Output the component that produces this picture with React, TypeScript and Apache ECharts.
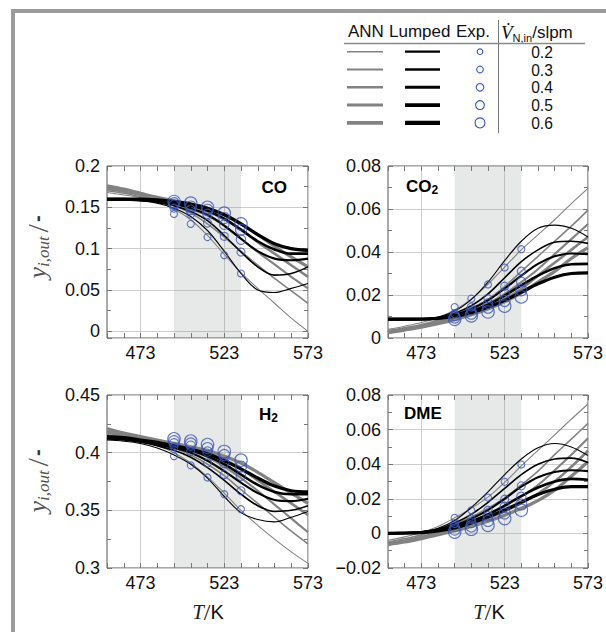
import React, { useEffect, useRef } from 'react';
import * as echarts from 'echarts';

// ---------- data ----------
const temps = [453, 463, 473, 483, 493, 503, 513, 523, 533, 543, 553, 563, 573];
const expTemps = [493, 503, 513, 523, 533];
const flows = ['0.2', '0.3', '0.4', '0.5', '0.6'];
const shadeRange = [493, 533];
const xTickLabels = [473, 523, 573];

const coAnn = [
  [0.168, 0.165, 0.162, 0.157, 0.148, 0.135, 0.116, 0.093, 0.071, 0.052, 0.034, 0.016, 0.0],
  [0.170, 0.167, 0.163, 0.159, 0.152, 0.143, 0.130, 0.114, 0.097, 0.080, 0.064, 0.049, 0.034],
  [0.172, 0.169, 0.165, 0.160, 0.155, 0.148, 0.140, 0.128, 0.112, 0.096, 0.081, 0.066, 0.052],
  [0.174, 0.170, 0.166, 0.161, 0.157, 0.152, 0.145, 0.136, 0.123, 0.108, 0.094, 0.080, 0.066],
  [0.176, 0.172, 0.167, 0.162, 0.158, 0.154, 0.149, 0.141, 0.130, 0.117, 0.103, 0.090, 0.078],
];
const coLumped = [
  [0.159, 0.159, 0.158, 0.155, 0.149, 0.139, 0.122, 0.097, 0.070, 0.050, 0.047, 0.052, 0.058],
  [0.159, 0.159, 0.158, 0.156, 0.152, 0.145, 0.134, 0.116, 0.096, 0.078, 0.068, 0.070, 0.078],
  [0.159, 0.159, 0.159, 0.157, 0.154, 0.149, 0.141, 0.128, 0.112, 0.097, 0.088, 0.086, 0.088],
  [0.160, 0.160, 0.159, 0.158, 0.156, 0.152, 0.146, 0.136, 0.123, 0.109, 0.099, 0.094, 0.094],
  [0.160, 0.160, 0.160, 0.159, 0.157, 0.154, 0.149, 0.141, 0.130, 0.117, 0.106, 0.100, 0.098],
];
const coExp = [
  [0.142, 0.130, 0.114, 0.092, 0.070],
  [0.149, 0.142, 0.131, 0.115, 0.096],
  [0.153, 0.147, 0.142, 0.129, 0.111],
  [0.155, 0.151, 0.147, 0.137, 0.123],
  [0.157, 0.155, 0.150, 0.143, 0.130],
];

const co2Ann = [
  [0.0040, 0.0055, 0.0072, 0.0095, 0.0130, 0.0180, 0.0250, 0.0330, 0.0410, 0.0480, 0.0550, 0.0625, 0.0696],
  [0.0035, 0.0048, 0.0063, 0.0082, 0.0107, 0.0140, 0.0180, 0.0240, 0.0310, 0.0380, 0.0450, 0.0520, 0.0595],
  [0.0030, 0.0043, 0.0058, 0.0075, 0.0097, 0.0125, 0.0160, 0.0205, 0.0260, 0.0320, 0.0390, 0.0460, 0.0530],
  [0.0028, 0.0040, 0.0053, 0.0070, 0.0090, 0.0115, 0.0145, 0.0182, 0.0228, 0.0290, 0.0350, 0.0410, 0.0470],
  [0.0025, 0.0037, 0.0050, 0.0066, 0.0085, 0.0108, 0.0135, 0.0168, 0.0210, 0.0260, 0.0310, 0.0370, 0.0420],
];
const co2Lumped = [
  [0.0085, 0.0085, 0.0088, 0.0098, 0.0125, 0.0180, 0.0260, 0.0360, 0.0450, 0.0510, 0.0525, 0.0510, 0.0470],
  [0.0085, 0.0085, 0.0087, 0.0095, 0.0115, 0.0150, 0.0205, 0.0280, 0.0355, 0.0410, 0.0445, 0.0450, 0.0440],
  [0.0087, 0.0087, 0.0088, 0.0093, 0.0108, 0.0135, 0.0175, 0.0230, 0.0290, 0.0345, 0.0380, 0.0393, 0.0390],
  [0.0088, 0.0088, 0.0088, 0.0092, 0.0103, 0.0125, 0.0155, 0.0197, 0.0245, 0.0290, 0.0325, 0.0343, 0.0345],
  [0.0088, 0.0088, 0.0088, 0.0091, 0.0100, 0.0118, 0.0143, 0.0175, 0.0213, 0.0252, 0.0283, 0.0300, 0.0303],
];
const co2Exp = [
  [0.0144, 0.0183, 0.0249, 0.0328, 0.0413],
  [0.0113, 0.0144, 0.0183, 0.0241, 0.0311],
  [0.0103, 0.0129, 0.0160, 0.0207, 0.0261],
  [0.0095, 0.0113, 0.0141, 0.0172, 0.0222],
  [0.0087, 0.0103, 0.0121, 0.0148, 0.0191],
];

const h2Ann = [
  [0.416, 0.413, 0.410, 0.406, 0.400, 0.391, 0.379, 0.365, 0.350, 0.337, 0.325, 0.314, 0.304],
  [0.417, 0.414, 0.411, 0.408, 0.404, 0.398, 0.390, 0.380, 0.368, 0.356, 0.344, 0.332, 0.321],
  [0.418, 0.415, 0.412, 0.409, 0.406, 0.402, 0.396, 0.388, 0.378, 0.367, 0.355, 0.343, 0.331],
  [0.419, 0.416, 0.413, 0.410, 0.407, 0.404, 0.400, 0.394, 0.386, 0.376, 0.366, 0.356, 0.346],
  [0.421, 0.417, 0.414, 0.411, 0.408, 0.405, 0.402, 0.397, 0.391, 0.383, 0.374, 0.365, 0.356],
];
const h2Lumped = [
  [0.411, 0.410, 0.408, 0.404, 0.398, 0.390, 0.378, 0.362, 0.348, 0.342, 0.340, 0.344, 0.349],
  [0.412, 0.411, 0.409, 0.406, 0.402, 0.396, 0.387, 0.376, 0.364, 0.354, 0.349, 0.350, 0.354],
  [0.413, 0.412, 0.410, 0.407, 0.404, 0.400, 0.393, 0.384, 0.374, 0.365, 0.359, 0.358, 0.360],
  [0.413, 0.412, 0.410, 0.408, 0.405, 0.402, 0.397, 0.390, 0.381, 0.372, 0.366, 0.364, 0.364],
  [0.414, 0.413, 0.411, 0.409, 0.406, 0.403, 0.399, 0.393, 0.386, 0.378, 0.371, 0.367, 0.366],
];
const h2Exp = [
  [0.397, 0.389, 0.3785, 0.364, 0.351],
  [0.405, 0.401, 0.391, 0.381, 0.367],
  [0.408, 0.406, 0.401, 0.391, 0.380],
  [0.410, 0.408, 0.404, 0.398, 0.388],
  [0.412, 0.410, 0.407, 0.401, 0.3935],
];

const dmeAnn = [
  [-0.0040, -0.0020, 0.0005, 0.0040, 0.0090, 0.0145, 0.0210, 0.0295, 0.0390, 0.0480, 0.0570, 0.0660, 0.0748],
  [-0.0050, -0.0030, -0.0010, 0.0020, 0.0055, 0.0095, 0.0145, 0.0205, 0.0280, 0.0360, 0.0455, 0.0545, 0.0636],
  [-0.0055, -0.0040, -0.0020, 0.0008, 0.0040, 0.0070, 0.0110, 0.0160, 0.0215, 0.0280, 0.0365, 0.0455, 0.0550],
  [-0.0060, -0.0045, -0.0025, 0.0000, 0.0025, 0.0055, 0.0088, 0.0128, 0.0175, 0.0230, 0.0300, 0.0385, 0.0478],
  [-0.0065, -0.0050, -0.0030, -0.0008, 0.0015, 0.0040, 0.0070, 0.0105, 0.0145, 0.0190, 0.0250, 0.0330, 0.0414],
];
const dmeLumped = [
  [0.0000, 0.0002, 0.0010, 0.0030, 0.0075, 0.0150, 0.0240, 0.0340, 0.0430, 0.0495, 0.0520, 0.0500, 0.0450],
  [0.0000, 0.0002, 0.0008, 0.0025, 0.0060, 0.0110, 0.0180, 0.0260, 0.0340, 0.0400, 0.0430, 0.0435, 0.0410],
  [0.0000, 0.0002, 0.0007, 0.0020, 0.0045, 0.0085, 0.0135, 0.0200, 0.0270, 0.0325, 0.0355, 0.0365, 0.0360],
  [0.0000, 0.0002, 0.0006, 0.0017, 0.0037, 0.0070, 0.0110, 0.0160, 0.0215, 0.0265, 0.0300, 0.0315, 0.0310],
  [0.0000, 0.0002, 0.0005, 0.0015, 0.0032, 0.0060, 0.0095, 0.0135, 0.0180, 0.0225, 0.0255, 0.0270, 0.0270],
];
const dmeExp = [
  [0.0090, 0.0134, 0.0207, 0.0298, 0.0398],
  [0.0057, 0.0085, 0.0134, 0.0198, 0.0275],
  [0.0037, 0.0060, 0.0099, 0.0153, 0.0211],
  [0.0022, 0.0040, 0.0072, 0.0115, 0.0167],
  [0.0008, 0.0024, 0.0047, 0.0086, 0.0134],
];

// ---------- styling ----------
const SANS = 'Liberation Sans, Arial, Helvetica, sans-serif';
const SERIF = 'Liberation Serif, Times New Roman, serif';
const ANN_COLOR = '#828282';
const LUM_COLOR = '#000000';
const EXP_COLOR = '#3a54b6';
const GRID_COLOR = '#cdcdcd';
const lineWidths = [1.1, 1.6, 2.1, 2.6, 3.2];
const expSizes = [7, 8, 9.5, 11, 12.5];

const panels = [
  { key: 'CO', box: { left: 107, top: 166, width: 201, height: 172 }, ann: coAnn, lum: coLumped, exp: coExp, yMin: -0.008, yMax: 0.2, yInterval: null as number | null },
  { key: 'CO2', box: { left: 388, top: 166, width: 201, height: 172 }, ann: co2Ann, lum: co2Lumped, exp: co2Exp, yMin: 0, yMax: 0.08, yInterval: 0.02 },
  { key: 'H2', box: { left: 107, top: 395, width: 201, height: 173 }, ann: h2Ann, lum: h2Lumped, exp: h2Exp, yMin: 0.3, yMax: 0.45, yInterval: 0.05 },
  { key: 'DME', box: { left: 388, top: 395, width: 201, height: 173 }, ann: dmeAnn, lum: dmeLumped, exp: dmeExp, yMin: -0.02, yMax: 0.08, yInterval: 0.02 },
];

function fmtY(v: number) {
  if (v < -1e-9) {
    if (v < -0.015) return '\u2212' + String(Math.abs(Math.round(v * 1000) / 1000));
    return '';
  }
  return String(Math.round(v * 1000) / 1000);
}

function buildOption() {
  const grid: any[] = [];
  const xAxis: any[] = [];
  const yAxis: any[] = [];
  const series: any[] = [];

  panels.forEach((p, gi) => {
    grid.push({ ...p.box, show: true, borderColor: '#555', borderWidth: 1, backgroundColor: 'transparent', containLabel: false });
    const xBase = {
      type: 'value', gridIndex: gi, min: 453, max: 573, interval: 10,
      axisLine: { show: false, onZero: false },
      axisTick: { show: true, inside: true, length: 5, lineStyle: { color: '#777', width: 1 } },
    };
    xAxis.push({
      ...xBase, position: 'bottom',
      splitLine: { show: true, lineStyle: { color: ['transparent', 'transparent', GRID_COLOR, 'transparent', 'transparent'], width: 1 } },
      axisLabel: {
        show: true, margin: 6, color: '#111', fontFamily: SANS, fontSize: 18,
        formatter: (v: number) => (xTickLabels.indexOf(Math.round(v)) >= 0 ? String(Math.round(v)) : ''),
      },
    });
    xAxis.push({ ...xBase, position: 'top', splitLine: { show: false }, axisLabel: { show: false } });

    const yBase: any = {
      type: 'value', gridIndex: gi, min: p.yMin, max: p.yMax,
      axisLine: { show: false, onZero: false },
      axisTick: { show: true, inside: true, length: 5, lineStyle: { color: '#777', width: 1 } },
      minorTick: { show: true, splitNumber: 2, length: 4, lineStyle: { color: '#777', width: 1 } },
    };
    if (p.yInterval) yBase.interval = p.yInterval; else yBase.splitNumber = 4;
    yAxis.push({
      ...yBase, position: 'left',
      splitLine: { show: true, lineStyle: { color: GRID_COLOR, width: 1 } },
      axisLabel: { show: true, margin: 7, color: '#111', fontFamily: SANS, fontSize: 18, formatter: fmtY },
    });
    yAxis.push({ ...yBase, position: 'right', splitLine: { show: false }, axisLabel: { show: false } });

    const xi = gi * 2;
    const yi = gi * 2;
    // shaded experimental range
    series.push({
      type: 'line', xAxisIndex: xi, yAxisIndex: yi, silent: true, z: 1,
      data: shadeRange.map((t) => [t, p.yMax]),
      symbol: 'none', lineStyle: { width: 0, opacity: 0 },
      areaStyle: { color: 'rgba(128,132,132,0.27)', origin: 'start' },
    });
    p.ann.forEach((arr, k) => {
      series.push({
        type: 'line', xAxisIndex: xi, yAxisIndex: yi, silent: true, z: 2,
        data: temps.map((t, j) => [t, arr[j]]), smooth: 0.35, symbol: 'none',
        lineStyle: { color: ANN_COLOR, width: lineWidths[k] },
      });
    });
    p.lum.forEach((arr, k) => {
      series.push({
        type: 'line', xAxisIndex: xi, yAxisIndex: yi, silent: true, z: 3,
        data: temps.map((t, j) => [t, arr[j]]), smooth: 0.35, symbol: 'none',
        lineStyle: { color: LUM_COLOR, width: lineWidths[k] },
      });
    });
    p.exp.forEach((arr, k) => {
      series.push({
        type: 'scatter', xAxisIndex: xi, yAxisIndex: yi, silent: true, z: 4,
        data: expTemps.map((t, j) => [t, arr[j]]), symbol: 'circle', symbolSize: expSizes[k],
        itemStyle: { color: 'rgba(0,0,0,0)', borderColor: EXP_COLOR, borderWidth: 1.1 },
      });
    });
  });

  // ---------- graphic: frame, legend table, axis names, panel labels ----------
  const g: any[] = [];
  g.push({ type: 'rect', shape: { x: 11, y: 9, width: 595, height: 4 }, style: { fill: '#9b9b9b' }, silent: true });
  g.push({ type: 'rect', shape: { x: 11, y: 9, width: 4, height: 623 }, style: { fill: '#9b9b9b' }, silent: true });

  const txt = (x: number, y: number, text: string, extra: any = {}) => ({
    type: 'text', x, y, silent: true,
    style: {
      text, fill: '#111', font: `18px ${SANS}`, fontFamily: SANS, fontSize: 18,
      align: 'left', textAlign: 'left', verticalAlign: 'middle', textVerticalAlign: 'middle', ...extra,
    },
  });

  // legend header
  const hy = 31;
  g.push(txt(348, hy, 'ANN', { fontSize: 17, font: `17px ${SANS}` }));
  g.push(txt(389, hy, 'Lumped', { fontSize: 17, font: `17px ${SANS}` }));
  g.push(txt(456, hy, 'Exp.', { fontSize: 17, font: `17px ${SANS}` }));
  g.push({
    type: 'text', x: 501, y: hy + 1, silent: true,
    style: {
      text: '{v|V\u0307}{s|N,in}{n|/slpm}', align: 'left', textAlign: 'left', verticalAlign: 'middle', textVerticalAlign: 'middle',
      rich: {
        v: { fontFamily: SERIF, fontStyle: 'italic', fontSize: 19, lineHeight: 22, fill: '#111', verticalAlign: 'middle' },
        s: { fontFamily: SANS, fontSize: 11, lineHeight: 14, fill: '#111', verticalAlign: 'bottom' },
        n: { fontFamily: SANS, fontSize: 17, lineHeight: 22, fill: '#111', verticalAlign: 'middle' },
      },
    },
  });
  g.push({ type: 'line', shape: { x1: 498.5, y1: 20, x2: 498.5, y2: 133 }, style: { stroke: '#777', lineWidth: 1 }, silent: true });
  g.push({ type: 'line', shape: { x1: 344, y1: 43.5, x2: 585, y2: 43.5 }, style: { stroke: '#8a8a8a', lineWidth: 1.6 }, silent: true });
  const legendLineW = [1.6, 2.0, 2.5, 3.0, 3.6];
  const legendCircleR = [2.8, 3.3, 3.8, 4.4, 5.0];
  flows.forEach((f, i) => {
    const y = 51.7 + i * 17.8;
    g.push({ type: 'line', shape: { x1: 347, y1: y, x2: 383, y2: y }, style: { stroke: ANN_COLOR, lineWidth: legendLineW[i] }, silent: true });
    g.push({ type: 'line', shape: { x1: 405, y1: y, x2: 440, y2: y }, style: { stroke: LUM_COLOR, lineWidth: legendLineW[i] + 0.6 }, silent: true });
    g.push({ type: 'circle', shape: { cx: 480, cy: y, r: legendCircleR[i] }, style: { fill: 'none', stroke: EXP_COLOR, lineWidth: 1.1 }, silent: true });
    g.push(txt(542, y + 0.5, f, { align: 'center', textAlign: 'center', fontSize: 15.6, font: `15.6px ${SANS}` }));
  });

  // y-axis names
  const yName = (x: number, y: number) => ({
    type: 'text', x, y, rotation: Math.PI / 2, silent: true,
    style: {
      text: '{y|y}{s|i,out}{sl|/}{d|-}', align: 'center', textAlign: 'center', verticalAlign: 'middle', textVerticalAlign: 'middle',
      rich: {
        y: { fontFamily: SERIF, fontStyle: 'italic', fontSize: 26, lineHeight: 30, fill: '#555', verticalAlign: 'middle' },
        s: { fontFamily: SERIF, fontStyle: 'italic', fontSize: 17, lineHeight: 17, fill: '#555', verticalAlign: 'bottom' },
        sl: { fontFamily: SERIF, fontSize: 30, lineHeight: 30, fill: '#555', verticalAlign: 'middle', padding: [0, 2, 0, 4] },
        d: { fontFamily: SANS, fontWeight: 'bold', fontSize: 20, lineHeight: 30, fill: '#333', verticalAlign: 'middle' },
      },
    },
  });
  g.push(yName(37, 247));
  g.push(yName(37, 481));

  // x-axis names
  const xName = (x: number, y: number) => ({
    type: 'text', x, y, silent: true,
    style: {
      text: '{t|T}{sl|/}{k|K}', align: 'center', textAlign: 'center', verticalAlign: 'middle', textVerticalAlign: 'middle',
      rich: {
        t: { fontFamily: SERIF, fontStyle: 'italic', fontSize: 21, lineHeight: 26, fill: '#222' },
        sl: { fontFamily: SERIF, fontSize: 24, lineHeight: 26, fill: '#222' },
        k: { fontFamily: SANS, fontSize: 20, lineHeight: 26, fill: '#111' },
      },
    },
  });
  g.push(xName(208, 612));
  g.push(xName(489, 612));

  // panel labels
  const pl = (x: number, y: number, main: string, sub: string, align: string) => ({
    type: 'text', x, y, silent: true, z: 10,
    style: {
      text: sub ? `{m|${main}}{s|${sub}}` : `{m|${main}}`, align, textAlign: align, verticalAlign: 'middle', textVerticalAlign: 'middle',
      rich: {
        m: { fontFamily: SANS, fontWeight: 'bold', fontSize: 17, lineHeight: 20, fill: '#000', verticalAlign: 'middle' },
        s: { fontFamily: SANS, fontWeight: 'bold', fontSize: 12, lineHeight: 12, fill: '#000', verticalAlign: 'bottom' },
      },
    },
  });
  g.push(pl(287, 187, 'CO', '', 'right'));
  g.push(pl(406, 186, 'CO', '2', 'left'));
  g.push(pl(259, 414, 'H', '2', 'left'));
  g.push(pl(404, 413, 'DME', '', 'left'));

  return { animation: false, grid, xAxis, yAxis, series, graphic: { elements: g } };
}

export default function App() {
  const ref = useRef<HTMLDivElement>(null);
  useEffect(() => {
    if (!ref.current) return;
    const chart = echarts.init(ref.current, undefined, { renderer: 'svg' });
    chart.setOption(buildOption() as any);
    return () => chart.dispose();
  }, []);
  return (
    <div
      ref={ref}
      style={{ position: 'fixed', left: 0, top: 0, width: 606, height: 632, background: '#fff' }}
    />
  );
}
